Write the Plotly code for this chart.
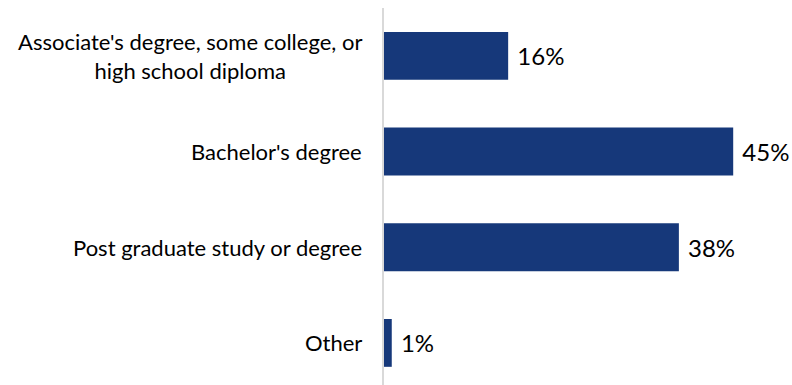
import plotly.graph_objects as go

# Education level breakdown
categories = [
    "Associate's degree, some college, or<br>high school diploma",
    "Bachelor's degree",
    "Post graduate study or degree",
    "Other",
]
values = [16, 45, 38, 1]
value_labels = [f"{v}%" for v in values]

BAR_COLOR = "#16387A"
FONT = "Lato"

fig = go.Figure(
    go.Bar(
        x=values,
        y=categories,
        orientation="h",
        width=0.5,
        marker=dict(color=BAR_COLOR, line=dict(width=0)),
        text=value_labels,
        texttemplate=" %{text}",
        textposition="outside",
        textfont=dict(family=FONT, size=24, color="#000000"),
        cliponaxis=False,
        hoverinfo="skip",
    )
)

# Category labels, centred line-by-line and right-anchored beside the axis
for cat in categories:
    fig.add_annotation(
        x=0, xref="paper", xanchor="right", xshift=-20,
        y=cat, yref="y",
        text=cat, showarrow=False, align="center",
        font=dict(family=FONT, size=22, color="#000000"),
    )

fig.update_layout(
    width=792, height=385,
    margin=dict(l=384, r=20, t=8, b=0),
    paper_bgcolor="white", plot_bgcolor="white",
    showlegend=False,
    uniformtext=dict(mode=False),
    xaxis=dict(range=[0, 50], visible=False, fixedrange=True),
    yaxis=dict(
        type="category",
        categoryorder="array", categoryarray=categories,
        range=[3.44, -0.5],
        showticklabels=False, showgrid=False, zeroline=False,
        showline=True, linecolor="#D9D9D9", linewidth=2,
        ticks="",
    ),
)

fig.write_html("out.html")
